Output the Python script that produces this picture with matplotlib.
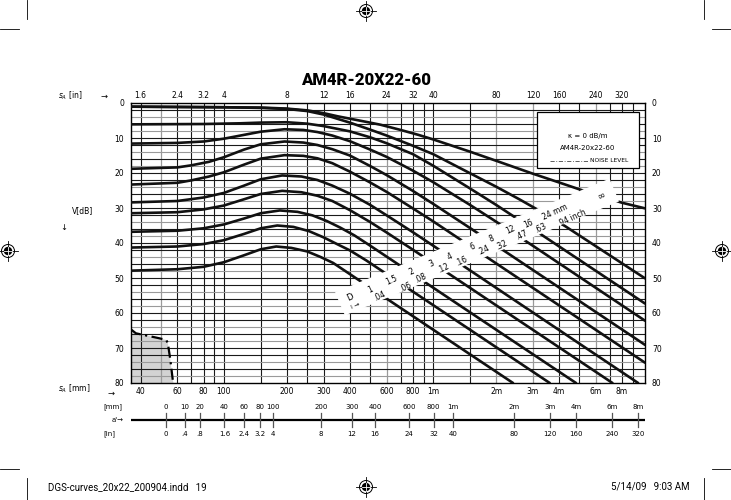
import matplotlib
matplotlib.use("Agg")
import matplotlib.pyplot as plt
import matplotlib.patches as patches
from matplotlib.ticker import NullLocator

# ---- data: s_A in mm, V in dB ----
curve_inf = [(36, 1.05), (150, 1.3), (200, 1.6), (250, 2.1), (300, 2.9), (350, 3.8), (480, 5.4),
             (560, 6.2), (700, 7.7), (850, 9.1), (1000, 10.4), (1500, 13.9), (2000, 16.5),
             (3000, 20.2), (4000, 22.7), (5500, 25.5), (8000, 28.5), (10300, 30.1)]
curve_24 = [(36, 1.05), (100, 1.2), (150, 1.4), (200, 1.7), (250, 2.3), (300, 3.3), (400, 5.6),
            (500, 7.6), (600, 9.3), (800, 12.2), (1000, 14.6), (1346, 18.6), (2000, 23.9),
            (2600, 27.6), (3362, 31.4), (4280, 35.2), (10300, 50.1)]
curve_16 = [(36, 6.1), (80, 6.0), (120, 5.8), (150, 5.6), (200, 5.5), (250, 5.9), (300, 6.6),
            (400, 8.1), (500, 9.8), (600, 11.5), (800, 14.6), (1000, 17.9), (1500, 24.4),
            (2000, 29.1), (3000, 36.0), (10300, 57.3)]
curve_12 = [(36, 11.6), (60, 11.4), (80, 11.0), (100, 10.2), (125, 9.1), (150, 8.2), (195, 7.5),
            (240, 7.7), (280, 8.3), (330, 9.3), (400, 10.9), (500, 13.3), (600, 15.4),
            (800, 19.3), (1000, 22.6), (1500, 29.1), (2000, 33.9), (3000, 40.8), (10300, 62.2)]
curve_8 = [(36, 18.8), (60, 18.4), (70, 17.8), (85, 16.8), (100, 15.5), (125, 13.3), (150, 11.8),
           (195, 11.0), (240, 11.3), (280, 12.0), (330, 13.2), (400, 15.0), (500, 18.0),
           (600, 20.6), (800, 25.1), (1000, 28.8), (1500, 35.7), (10300, 69.1)]
curve_6 = [(36, 23.3), (60, 22.8), (70, 22.1), (85, 21.0), (100, 19.8), (125, 17.6), (150, 15.9),
           (195, 14.9), (240, 15.1), (280, 15.8), (330, 17.2), (400, 19.6), (500, 22.7),
           (600, 25.4), (800, 30.1), (1000, 33.8), (10300, 74.2)]
curve_4 = [(36, 28.4), (60, 28.0), (80, 27.0), (100, 25.7), (125, 23.6), (150, 21.8), (190, 20.7),
           (235, 21.0), (280, 22.0), (330, 23.6), (400, 25.9), (500, 29.1), (600, 32.1),
           (800, 36.9), (1000, 40.75), (9550, 80)]
curve_3 = [(36, 31.5), (60, 31.2), (80, 30.4), (100, 29.3), (125, 27.5), (150, 26.0), (190, 25.1),
           (235, 25.5), (280, 26.5), (330, 28.0), (400, 30.6), (500, 34.0), (600, 37.0),
           (800, 41.9), (7200, 80)]
curve_2 = [(36, 36.8), (60, 36.5), (80, 35.8), (100, 34.7), (125, 33.0), (150, 31.5), (185, 30.7),
           (225, 31.1), (265, 32.1), (310, 33.7), (360, 35.6), (420, 37.8), (500, 40.75),
           (600, 43.9), (4820, 80)]
curve_15 = [(36, 41.3), (60, 41.0), (80, 40.3), (100, 39.2), (125, 37.4), (150, 35.8), (180, 35.0),
            (215, 35.4), (255, 36.6), (300, 38.4), (350, 40.4), (400, 42.1), (480, 45.0),
            (3610, 80)]
curve_1 = [(36, 47.9), (60, 47.5), (80, 46.8), (100, 45.5), (125, 43.5), (150, 41.8), (178, 41.0),
           (210, 41.4), (250, 42.4), (290, 44.0), (333, 45.7), (2410, 80)]
curves = [curve_inf, curve_24, curve_16, curve_12, curve_8, curve_6,
          curve_4, curve_3, curve_2, curve_15, curve_1]

noise_s = [36, 38, 49, 53, 54, 55.5, 57, 57.5]
noise_v = [64.7, 65.8, 67.2, 67.7, 68.6, 73.4, 79.1, 80]

bottom_ticks = [40, 60, 80, 100, 200, 300, 400, 600, 800, 1000, 2000, 3000, 4000, 6000, 8000]
bottom_labels = ['40', '60', '80', '100', '200', '300', '400', '600', '800',
                 '1m', '2m', '3m', '4m', '6m', '8m']
top_labels = ['1.6', '2.4', '3.2', '4', '8', '12', '16', '24', '32', '40',
              '80', '120', '160', '240', '320']
db_ticks = [0, 10, 20, 30, 40, 50, 60, 70, 80]

ap_mm = [0, 10, 20, 40, 60, 80, 100, 200, 300, 400, 600, 800, 1000, 2000, 3000, 4000, 6000, 8000]
ap_mm_labels = ['0', '10', '20', '40', '60', '80', '100', '200', '300', '400', '600', '800',
                '1m', '2m', '3m', '4m', '6m', '8m']
ap_in_labels = ['0', '.4', '.8', '1.6', '2.4', '3.2', '4', '8', '12', '16', '24', '32',
                '40', '80', '120', '160', '240', '320']

d_mm_labels = ['1', '1.5', '2', '3', '4', '6', '8', '12', '16', '24 mm']
d_in_labels = ['.04', '.06', '.08', '.12', '.16', '.24', '.32', '.47', '.63', '.94 inch']

vgrid_black = [40, 60, 70, 80, 90, 100, 150, 200, 250, 300, 400, 500, 700, 800, 900, 1000,
               1500, 4000, 5000, 7000, 8000, 9000]
vgrid_gray = [50, 600, 2000, 3000, 6000]


def aprime_pos(a):
    # a' scale sits shifted against the s_A scale
    return 53 + 1.19 * a


W, H = 731, 500
fig = plt.figure(figsize=(W / 100, H / 100), dpi=100)

# page furniture drawn in pixel coords
deco = fig.add_axes([0, 0, 1, 1], zorder=-1)
deco.set_xlim(0, W)
deco.set_ylim(H, 0)
deco.axis('off')

ax = fig.add_axes([131 / W, 1 - 383 / H, 514 / W, 280 / H])
ax.set_xscale('log')
ax.set_xlim(36, 10300)
ax.set_ylim(80, 0)

for s in vgrid_black:
    ax.axvline(s, color='#1a1a1a', lw=0.8, zorder=1)
for s in vgrid_gray:
    ax.axvline(s, color='#9a9a9a', lw=0.9, zorder=1)
for v in range(2, 80, 2):
    c = '#9a9a9a' if v % 10 in (4, 8) else '#1a1a1a'
    ax.axhline(v, color=c, lw=0.8, zorder=1)

# noise level zone
ax.fill(noise_s + [36], noise_v + [80], color='#d3d3d3', zorder=0.5, lw=0)
ax.plot(noise_s, noise_v, color='black', lw=1.6, ls=(0, (5, 2, 1, 2)), zorder=2)

for c in curves:
    ax.plot([p[0] for p in c], [p[1] for p in c], color='#111111', lw=1.9,
            solid_capstyle='round', solid_joinstyle='round', zorder=3)

# white label strip across the curves
band = [(340, 54.1), (379, 60.7), (7745, 28.1), (6966, 21.6)]
ax.add_patch(patches.Polygon(band, closed=True, fc='white', ec='none', zorder=4))
mm_pos = [(500, 53.4), (634, 50.6), (791, 48.2), (986, 45.8), (1206, 43.9), (1554, 41.0),
          (1910, 38.7), (2336, 36.3), (2858, 34.4), (3835, 31.1)]
in_pos = [(558, 55.1), (735, 52.5), (867, 50.0), (1116, 47.1), (1372, 45.3), (1734, 42.0),
          (2130, 40.6), (2655, 37.7), (3250, 35.8), (4620, 32.9)]
for lbl, (s, v) in zip(d_mm_labels, mm_pos):
    ax.text(s, v, lbl, rotation=25, fontsize=5.5, ha='center', va='center', zorder=5)
for lbl, (s, v) in zip(d_in_labels, in_pos):
    ax.text(s, v, lbl, rotation=25, fontsize=5.5, ha='center', va='center', zorder=5)
ax.text(6410, 26.3, '\u221e', rotation=25, fontsize=7, ha='center', va='center', zorder=5)
ax.text(401, 55.4, 'D', rotation=25, fontsize=6, ha='center', va='center', zorder=5)
ax.text(428, 57.9, 'I \u2192', rotation=25, fontsize=4.5, ha='center', va='center', zorder=5)

# legend box
ax.add_patch(patches.Rectangle((0.789, 0.768), 0.199, 0.201, transform=ax.transAxes,
                               fc='white', ec='black', lw=0.9, zorder=6))
ax.text(0.889, 0.882, '\u03ba = 0 dB/m', transform=ax.transAxes, fontsize=5,
        ha='center', va='center', zorder=7)
ax.text(0.889, 0.839, 'AM4R-20x22-60', transform=ax.transAxes, fontsize=5,
        ha='center', va='center', zorder=7)
ax.plot([0.815, 0.889], [0.793, 0.793], transform=ax.transAxes, color='#444', lw=0.6,
        ls=(0, (5, 2, 1, 2)), zorder=7)
ax.text(0.893, 0.793, 'NOISE LEVEL', transform=ax.transAxes, fontsize=4.2,
        ha='left', va='center', zorder=7)

# axes ticks
ax.xaxis.set_minor_locator(NullLocator())
ax.set_xticks(bottom_ticks)
ax.set_xticklabels(bottom_labels)
ax.set_yticks(db_ticks)
ax.tick_params(axis='both', which='both', length=0, labelsize=5.5, pad=3)
ax.tick_params(axis='y', labelleft=True, labelright=True, pad=5)
top = ax.secondary_xaxis('top')
top.xaxis.set_minor_locator(NullLocator())
top.set_xticks(bottom_ticks)
top.set_xticklabels(top_labels)
top.tick_params(length=0, labelsize=5.5, pad=2)
top.spines['top'].set_visible(False)
for sp in ax.spines.values():
    sp.set_linewidth(1.0)

# a' scale underneath
ax2 = fig.add_axes([131 / W, 1 - 442 / H, 514 / W, 44 / H])
ax2.set_xscale('log')
ax2.set_xlim(36, 10300)
ax2.set_ylim(442, 398)
ax2.axis('off')
ax2.plot([36, 10300], [420, 420], color='black', lw=1.6)
for a, lm, li in zip(ap_mm, ap_mm_labels, ap_in_labels):
    x = aprime_pos(a)
    ax2.plot([x, x], [413, 427], color='#555555', lw=0.9)
    ax2.text(x, 407, lm, fontsize=5, ha='center', va='center')
    ax2.text(x, 434, li, fontsize=5, ha='center', va='center')

# labels around the chart
fig.text(366 / W, 1 - 80 / H, 'AM4R-20X22-60', fontsize=12, fontweight='heavy',
         family=['Roboto', 'DejaVu Sans'], ha='center', va='center')
deco.text(58, 96, '$s_A$ [in]', fontsize=5.5, ha='left', va='center')
deco.text(104, 96, '\u2192', fontsize=6, ha='center', va='center')
deco.text(58, 389, '$s_A$ [mm]', fontsize=5.5, ha='left', va='center')
deco.text(111, 393, '\u2192', fontsize=6, ha='center', va='center')
deco.text(72, 211, 'V[dB]', fontsize=5.5, ha='left', va='center')
deco.text(64, 228, '\u2193', fontsize=6, ha='center', va='center')
deco.text(103, 407, '[mm]', fontsize=5, ha='left', va='center')
deco.text(112, 420, "a'\u2192", fontsize=5, ha='left', va='center')
deco.text(103, 434, '[in]', fontsize=5, ha='left', va='center')

# print marks
for x0, x1, y in [(0, 19, 29), (712, 731, 29), (0, 19, 469), (712, 731, 469)]:
    deco.plot([x0, x1], [y, y], color='black', lw=0.6)
for x in (27, 704):
    deco.plot([x, x], [0, 19], color='black', lw=0.6)
    deco.plot([x, x], [478, 500], color='black', lw=0.6)
for cx, cy in [(366, 11), (8, 251), (722, 251), (366, 487)]:
    deco.add_patch(patches.Circle((cx, cy), 6.5, fc='white', ec='black', lw=0.7))
    deco.add_patch(patches.Circle((cx, cy), 4.2, fc='black', ec='none'))
    deco.plot([cx - 10, cx + 10], [cy, cy], color='black', lw=0.6)
    deco.plot([cx, cx], [cy - 10, cy + 10], color='black', lw=0.6)
    deco.plot([cx - 4.2, cx + 4.2], [cy, cy], color='white', lw=0.6)
    deco.plot([cx, cx], [cy - 4.2, cy + 4.2], color='white', lw=0.6)
deco.text(48, 487, 'DGS-curves_20x22_200904.indd   19', fontsize=7,
          family=['Roboto', 'DejaVu Sans'], ha='left', va='center')
deco.text(690, 487, '5/14/09   9:03 AM', fontsize=7,
          family=['Roboto', 'DejaVu Sans'], ha='right', va='center')

fig.savefig('out.png', dpi=100)
